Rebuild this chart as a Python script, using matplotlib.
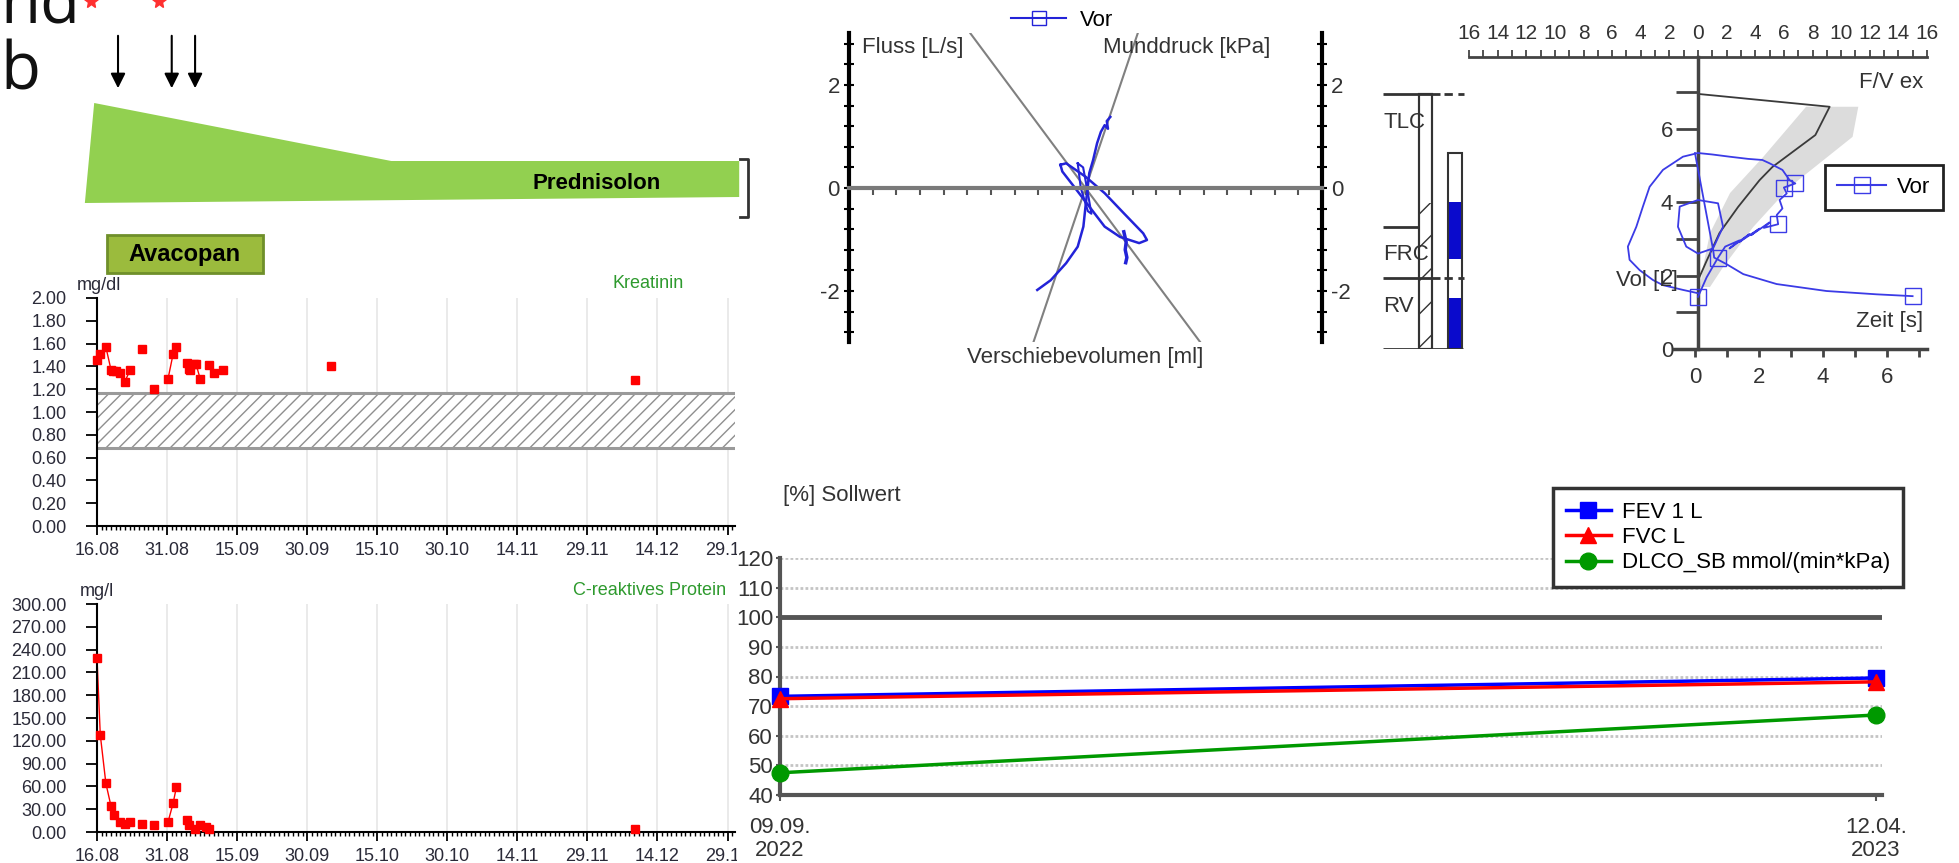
import numpy as np
import matplotlib
matplotlib.use("Agg")
import matplotlib.pyplot as plt
from matplotlib.patches import Rectangle
from matplotlib.lines import Line2D
from matplotlib.collections import LineCollection
from matplotlib.ticker import MultipleLocator, FuncFormatter

plt.rcParams['font.family'] = ['Liberation Sans', 'DejaVu Sans']
plt.rcParams['axes.unicode_minus'] = False
plt.rcParams['hatch.linewidth'] = 1.0

W, H = 1959, 863

# ---------------- data ----------------
# lab values, days since 16.08.2022
lab_tick_days = [0, 15, 30, 45, 60, 75, 90, 105, 120, 135]
lab_tick_labels = ['16.08', '31.08', '15.09', '30.09', '15.10', '30.10',
                   '14.11', '29.11', '14.12', '29.12']
krea_days = [0, 0.7, 1.9, 3.0, 3.5, 4.1, 5.0, 5.9, 7.1, 9.6, 12.2, 15.2, 16.3,
             17.0, 19.2, 19.7, 20.0, 20.7, 21.2, 22.1, 24.0, 25.1, 26.9, 50.0, 115.1]
krea_vals = [1.46, 1.51, 1.57, 1.37, 1.36, 1.36, 1.34, 1.26, 1.37, 1.55, 1.20, 1.29, 1.51,
             1.57, 1.43, 1.38, 1.37, 1.42, 1.42, 1.29, 1.41, 1.34, 1.37, 1.40, 1.28]
krea_ref = (0.68, 1.17)
crp_days = [0, 0.7, 1.9, 3.0, 3.6, 5.0, 5.9, 7.1, 9.6, 12.2, 15.2, 16.3, 17.0,
            19.2, 19.7, 21.0, 22.1, 23.3, 24.0, 115.1]
crp_vals = [229, 128, 64, 34, 22, 13, 10.5, 13, 10.5, 8.8, 13, 38, 59,
            16, 8.8, 4.4, 8.8, 6.6, 4.0, 4.4]

# therapy timeline
arrow_days = [4.5, 16.0, 21.0]
avacopan_days = (2.1, 35.5)
pred_days = [-0.6, 63, 137.5, 137.5, -2.6]
pred_rows = [103, 161, 161, 197, 203]

# body plethysmography (Vor)
bb_slopes = [-0.617, 1.36]
bb_main_x = [-2.04, -1.47, -0.82, -0.33, -0.09, 0.0, 0.08, 0.16, 0.32, 0.49, 0.65, 0.81, 0.95, 0.9, 1.05]
bb_main_y = [-1.98, -1.79, -1.46, -1.14, -0.75, -0.36, -0.04, 0.29, 0.54, 0.87, 1.09, 1.22, 1.15, 1.3, 1.38]
bb_loop_x = [-1.06, -0.82, 0, 0.81, 1.62, 2.44, 2.6, 2.27, 1.46, 0.81, 0.16, -0.49, -0.98, -1.06]
bb_loop_y = [0.45, 0.48, 0.22, -0.1, -0.49, -0.88, -1.01, -1.07, -0.95, -0.75, -0.36, 0.03, 0.32, 0.45]
bb_inner_x = [-0.33, -0.1, 0.1, 0.25, 0.1, -0.2, -0.33]
bb_inner_y = [0.48, 0.4, -0.1, -0.5, -0.45, 0.0, 0.48]
bb_blob_x = [1.62, 1.72, 1.68, 1.75, 1.7]
bb_blob_y = [-0.85, -1.05, -1.2, -1.35, -1.45]

# flow/volume
fv_pred_flow = [0, 9.2, 8.2, 5.2, 4.3, 2.8, 1.5, 0.6, 0.1]
fv_pred_vol = [6.95, 6.6, 5.83, 4.96, 4.6, 3.87, 3.16, 2.4, 1.96]
fv_band_flow = [11.2, 10.8, 6.4, 3.85, 1.75, 0.84, 0.14, 0.35, 0.84, 2.24, 4.55, 7.55]
fv_band_vol = [6.6, 5.78, 4.41, 3.32, 2.23, 1.69, 1.69, 2.23, 3.16, 4.25, 5.23, 6.6]
fv_exp_flow = [0, 1.0, 2.2, 3.5, 4.5, 5.0, 5.9, 6.4, 6.8, 6.0, 6.2, 5.7, 5.9, 5.5, 5.6,
               4.6, 5.0, 3.7, 4.3, 2.9, 3.6, 2.2, 2.9, 1.9, 1.4, 0.6, 0]
fv_exp_vol = [5.34, 5.30, 5.24, 5.18, 5.15, 5.06, 4.88, 4.60, 4.51, 4.40, 4.24, 4.06, 3.83, 3.65, 3.40,
              3.30, 3.45, 3.10, 3.28, 2.92, 3.13, 2.74, 2.96, 2.79, 2.49, 1.95, 1.42]
fv_exp_marks = [8, 9, 14, 24, 26]
fv_insp_flow = [0, -1.05, -2.45, -3.15, -4.08, -4.78, -4.9, -4.31, -3.85, -3.38, -2.45, -1.05, 0]
fv_insp_vol = [1.52, 1.61, 1.74, 1.88, 2.15, 2.43, 2.79, 3.33, 3.88, 4.42, 4.88, 5.24, 5.34]
fv_tidal_flow = [0, -1.28, -1.4, -0.82, 0, 1.05, 1.75, 1.4, 0]
fv_tidal_vol = [4.06, 3.88, 3.33, 2.79, 2.6, 2.74, 3.33, 3.97, 4.06]
vt_time = [0, 0.57, 0.6, 0.99, 1.51, 2.55, 4.11, 5.67, 6.8]
vt_vol = [5.34, 2.69, 2.49, 2.31, 2.04, 1.77, 1.58, 1.49, 1.44]

# lung volumes [L]
tlc_pred, frc_pred, rv_pred = 6.95, 3.32, 1.93
pred_hatch_top = 3.98
meas_tlc = 5.34
meas_segments = [(0, 1.39, '#0a0acc'), (1.39, 2.45, 'white'),
                 (2.45, 4.0, '#0a0acc'), (4.0, 5.34, 'white')]

# lung function trend, days since 09.09.2022
lf_days = [0, 215]
lf_labels = ['09.09.\n2022', '12.04.\n2023']
fev1 = [73.3, 79.5]
fvc = [72.5, 78.2]
dlco = [47.5, 67.0]

# ---------------- helpers ----------------
fig = plt.figure(figsize=(W / 100, H / 100), dpi=100)
fig.patch.set_facecolor('white')


def px_axes(x0, y0, x1, y1, **kw):
    return fig.add_axes([x0 / W, 1 - y1 / H, (x1 - x0) / W, (y1 - y0) / H], **kw)


def px_text(x, y, s, **kw):
    return fig.text(x / W, 1 - y / H, s, **kw)


TXT = '#2a2a38'
GREEN_T = '#2e9a2e'

# ---------------- timeline ----------------
px_text(0, 23, 'nd', fontsize=47, family='Open Sans', va='baseline', color='#111')
px_text(0, 90, 'b', fontsize=47, family='Open Sans', va='baseline', color='#111')
for xs in (91, 159):
    fig.add_artist(Line2D([xs / W], [1 - 1 / H], marker='*', ms=11, color='#ff3030',
                          transform=fig.transFigure))

axT = px_axes(97, 0, 735, 280)
axT.set_xlim(0, 136.6)
axT.set_ylim(280, 0)
axT.axis('off')
axT.fill(pred_days, pred_rows, color='#92D050', lw=0, clip_on=False)
axT.text(107, 183, 'Prednisolon', ha='center', va='center', fontsize=16, weight='bold')
axT.plot([137.6, 139.3, 139.3, 137.6], [159, 159, 217, 217], color='#333', lw=2, clip_on=False)
axT.add_patch(Rectangle((avacopan_days[0], 235), avacopan_days[1] - avacopan_days[0], 38,
                        facecolor='#9BBB3D', edgecolor='#6F8F2A', lw=2))
axT.text(sum(avacopan_days) / 2, 254, 'Avacopan', ha='center', va='center', fontsize=17, weight='bold')
for d in arrow_days:
    axT.annotate('', xy=(d, 91), xytext=(d, 33),
                 arrowprops=dict(arrowstyle='-|>', color='black', lw=1.5, mutation_scale=22))


# ---------------- lab panels ----------------
def lab_panel(rect, days, vals, ymax, ystep):
    ax = px_axes(*rect)
    ax.set_xlim(0, 136.6)
    ax.set_ylim(0, ymax)
    for d in lab_tick_days[1:]:
        ax.axvline(d, color='#e6e6e6', lw=1.2, zorder=0)
    for s in ('top', 'right'):
        ax.spines[s].set_visible(False)
    for s in ('left', 'bottom'):
        ax.spines[s].set_linewidth(1.5)
    days = np.asarray(days)
    vals = np.asarray(vals)
    runs = np.split(np.arange(len(days)), np.where(np.diff(days) > 1.5)[0] + 1)
    for r in runs:
        ax.plot(days[r], vals[r], color='red', lw=1, clip_on=False)
    ax.plot(days, vals, 's', color='red', ms=5.5, ls='none', clip_on=False, zorder=4)
    ax.set_xticks(lab_tick_days, lab_tick_labels)
    ax.xaxis.set_minor_locator(MultipleLocator(1))
    ax.tick_params(axis='x', which='major', length=6.5, width=1.3, labelsize=13, pad=5, labelcolor=TXT)
    ax.tick_params(axis='x', which='minor', length=3, width=1)
    ax.set_yticks(np.arange(0, ymax + ystep / 2, ystep))
    ax.yaxis.set_major_formatter(FuncFormatter(lambda v, p: f'{v:.2f}'))
    ax.tick_params(axis='y', length=8, width=1.3, labelsize=13, pad=14, labelcolor=TXT)
    return ax


axK = lab_panel((97, 298, 735, 526), krea_days, krea_vals, 2.0, 0.2)
# reference range, hatched with 45 degree lines about 13 px apart
band = Rectangle((0, krea_ref[0]), 136.6, krea_ref[1] - krea_ref[0], facecolor='white',
                 edgecolor='none', zorder=1)
axK.add_patch(band)
slope = (638 / 136.6) / (228 / 2.0)
rise = (krea_ref[1] - krea_ref[0]) / slope
starts = np.arange(-rise, 136.6, 2.75)
hatch = LineCollection([[(x, krea_ref[0]), (x + rise, krea_ref[1])] for x in starts],
                       colors='#8f8f8f', linewidths=1, zorder=1.5)
hatch.set_clip_path(band)
axK.add_collection(hatch)
axK.hlines(krea_ref, 0, 136.6, color='#9a9a9a', lw=2.2, zorder=2)
px_text(77, 285, 'mg/dl', fontsize=13, color=TXT, va='center')
px_text(648, 283, 'Kreatinin', fontsize=13, color=GREEN_T, ha='center', va='center')

axC = lab_panel((97, 604, 735, 832), crp_days, crp_vals, 300, 30)
px_text(80, 591, 'mg/l', fontsize=13, color=TXT, va='center')
px_text(726, 590, 'C-reaktives Protein', fontsize=13, color=GREEN_T, ha='right', va='center')

# white area of the lung function report covering the lab charts
fig.add_artist(Rectangle((737 / W, 0), 1 - 737 / W, 1 - 400 / H, transform=fig.transFigure,
                         facecolor='white', edgecolor='none', zorder=1))

# ---------------- body plethysmography ----------------
BLUE = '#2323d8'
axB = px_axes(849, 33.5, 1322, 342.5)
axB.set_xlim(-10, 10)
axB.set_ylim(-3, 3)
axB.patch.set_alpha(0)
axB.spines['top'].set_visible(False)
for s in ('left', 'right'):
    axB.spines[s].set_linewidth(3)
axB.spines['bottom'].set_position(('data', 0))
axB.spines['bottom'].set_color('#7a7a7a')
axB.spines['bottom'].set_linewidth(3)
axB.xaxis.set_major_locator(MultipleLocator(1))
axB.tick_params(axis='x', direction='out', length=5, width=1.5, color='#555', labelbottom=False)
axB.set_yticks([-2, 0, 2])
axB.yaxis.set_minor_locator(MultipleLocator(0.4))
axB.tick_params(axis='y', which='both', direction='inout', length=7, width=1.5,
                left=True, right=True, labelleft=True, labelright=True,
                labelsize=16, pad=3, labelcolor='#333')
for s in bb_slopes:
    axB.axline((0, 0), slope=s, color='#808080', lw=1.5)
axB.plot(bb_main_x, bb_main_y, color=BLUE, lw=1.8)
axB.plot(bb_loop_x, bb_loop_y, color=BLUE, lw=1.8)
axB.plot(bb_inner_x, bb_inner_y, color=BLUE, lw=1.5)
axB.plot(bb_blob_x, bb_blob_y, color=BLUE, lw=2.5)
px_text(862, 47, 'Fluss [L/s]', fontsize=16, color='#333', va='center')
px_text(1270, 47, 'Munddruck [kPa]', fontsize=16, color='#333', va='center', ha='right')
px_text(1085, 357, 'Verschiebevolumen [ml]', fontsize=16, color='#333', va='center', ha='center')
axB.legend([Line2D([], [], color=BLUE, marker='s', mfc='none', ms=10, lw=1.5)], ['Vor'],
           loc='center', bbox_to_anchor=(1062 / W, 1 - 20 / H), bbox_transform=fig.transFigure,
           frameon=False, fontsize=16, handlelength=2.5, handletextpad=0.6, borderpad=0)

# ---------------- lung volumes ----------------
axL = px_axes(1380, 57, 1470, 349)
axL.set_xlim(0, 90)
axL.set_ylim(0, 7.956)
axL.axis('off')
axL.hlines([tlc_pred, rv_pred, 0], 3, [60, 60, 83], color='#333', lw=2)
axL.hlines(frc_pred, 3, 39, color='#333', lw=2)
axL.hlines([tlc_pred, rv_pred], 64, 84, color='#333', lw=2, linestyles=(0, (3, 2)))
axL.add_patch(Rectangle((39, 0), 13, tlc_pred, facecolor='white', edgecolor='#333', lw=1.5))
axL.add_patch(Rectangle((39, 0), 13, pred_hatch_top, facecolor='none', edgecolor='#333',
                        hatch='/', lw=0))
axL.add_patch(Rectangle((39, 0), 13, tlc_pred, facecolor='none', edgecolor='#333', lw=1.5))
for lo, hi, c in meas_segments:
    axL.add_patch(Rectangle((68, lo), 14, hi - lo, facecolor=c, edgecolor='none'))
axL.add_patch(Rectangle((68, 0), 14, meas_tlc, facecolor='none', edgecolor='#333', lw=1.5))
for lab, y in (('TLC', 123), ('FRC', 255), ('RV', 307)):
    px_text(1383, y, lab, fontsize=16, color='#333', va='center')

# ---------------- flow / volume ----------------
FVB = '#3b3be6'
axF = px_axes(1469, 57, 1927, 349)
axF.set_xlim(-16, 16)
axF.set_ylim(0, 7.956)
axF.patch.set_alpha(0)
for s in ('right', 'bottom'):
    axF.spines[s].set_visible(False)
axF.spines['top'].set_linewidth(2)
axF.spines['top'].set_color('#444')
axF.spines['left'].set_position(('data', 0))
axF.spines['left'].set_linewidth(2.5)
axF.spines['left'].set_color('#444')
axF.xaxis.tick_top()
axF.xaxis.set_major_locator(MultipleLocator(2))
axF.xaxis.set_minor_locator(MultipleLocator(1))
axF.xaxis.set_major_formatter(FuncFormatter(lambda v, p: f'{abs(v):.0f}'))
axF.tick_params(axis='x', which='both', direction='out', length=5, width=1.3, color='#444',
                labelsize=15, pad=5, labelcolor='#333')
axF.set_yticks([0, 2, 4, 6])
axF.set_yticks([1, 3, 5, 7], minor=True)
axF.tick_params(axis='y', which='both', direction='out', length=16, width=2, color='#444',
                labelsize=16, pad=2, labelcolor='#333')
axF.fill(fv_band_flow, fv_band_vol, color='#dcdcdc', lw=0, zorder=1)
axF.plot(fv_pred_flow, fv_pred_vol, color='#3a3a3a', lw=1.3, zorder=2)
axF.plot(fv_insp_flow, fv_insp_vol, color=FVB, lw=1.3, zorder=3)
axF.plot(fv_tidal_flow, fv_tidal_vol, color=FVB, lw=1.3, zorder=3)
axF.plot(fv_exp_flow, fv_exp_vol, color=FVB, lw=1.3, zorder=3, marker='s', ms=11,
         mfc='none', markevery=fv_exp_marks, clip_on=False)

axV = px_axes(1469, 57, 1927, 349)
axV.set_xlim(-7.06, 7.25)
axV.set_ylim(0, 7.956)
axV.patch.set_visible(False)
for s in ('left', 'right', 'top'):
    axV.spines[s].set_visible(False)
axV.spines['bottom'].set_bounds(-0.65, 7.25)
axV.spines['bottom'].set_linewidth(2.5)
axV.spines['bottom'].set_color('#444')
axV.yaxis.set_visible(False)
axV.set_xticks([0, 2, 4, 6])
axV.set_xticks([1, 3, 5, 7], minor=True)
axV.tick_params(axis='x', which='both', direction='out', length=6, width=2, color='#444',
                labelsize=16, pad=7, labelcolor='#333')
axV.plot(vt_time, vt_vol, color=FVB, lw=1.3, marker='s', ms=11, mfc='none',
         markevery=[len(vt_time) - 1], clip_on=False)

px_text(1923, 83, 'F/V ex', fontsize=16, color='#333', ha='right', va='center')
px_text(1923, 322, 'Zeit [s]', fontsize=16, color='#333', ha='right', va='center')
px_text(1678, 280, 'Vol [L]', fontsize=16, color='#333', ha='right', va='center')
axF.legend([Line2D([], [], color=FVB, marker='s', mfc='none', ms=11, lw=1.5)], ['Vor'],
           loc='center', bbox_to_anchor=(1884 / W, 1 - 187.5 / H), bbox_transform=fig.transFigure,
           fontsize=16, fancybox=False, edgecolor='#222', framealpha=1,
           handlelength=2.2, handletextpad=0.5, borderpad=0.55).get_frame().set_linewidth(2)

# ---------------- lung function trend ----------------
axD = px_axes(780, 558, 1882, 795, zorder=2)
axD.set_xlim(0, 216.2)
axD.set_ylim(40, 120)
for v in (50, 60, 70, 80, 90, 110, 120):
    axD.axhline(v, color='#c4c4c4', lw=2, ls=(0, (1, 0.8)), zorder=0)
axD.axhline(100, color='#555', lw=3.5, zorder=1)
for s in ('top', 'right'):
    axD.spines[s].set_visible(False)
for s in ('left', 'bottom'):
    axD.spines[s].set_linewidth(3)
    axD.spines[s].set_color('#555')
axD.plot(lf_days, fev1, color='#0000ff', lw=2.5, marker='s', ms=12, clip_on=False, zorder=3)
axD.plot(lf_days, fvc, color='#ff0000', lw=2.5, marker='^', ms=12, clip_on=False, zorder=4)
axD.plot(lf_days, dlco, color='#009900', lw=2.5, marker='o', ms=12, clip_on=False, zorder=3)
axD.set_yticks(np.arange(40, 121, 10))
axD.tick_params(axis='y', length=3, width=1.5, color='#555', labelsize=16, pad=2, labelcolor='#333')
axD.set_xticks(lf_days, lf_labels)
axD.tick_params(axis='x', length=4, width=1.5, color='#555', labelsize=16, pad=12, labelcolor='#333')
for t in axD.get_xticklabels():
    t.set_linespacing(1.1)
px_text(783, 495, '[%] Sollwert', fontsize=16, color='#333', va='center')
leg = axD.legend([Line2D([], [], color='#0000ff', marker='s', ms=12, lw=2.5),
                  Line2D([], [], color='#ff0000', marker='^', ms=12, lw=2.5),
                  Line2D([], [], color='#009900', marker='o', ms=12, lw=2.5)],
                 ['FEV 1 L', 'FVC L', 'DLCO_SB mmol/(min*kPa)'],
                 loc='center', bbox_to_anchor=(1728 / W, 1 - 537.5 / H), bbox_transform=fig.transFigure,
                 fontsize=16, fancybox=False, edgecolor='#333', framealpha=1,
                 handlelength=2.0, handletextpad=0.5, labelspacing=0.2, borderpad=0.6)
leg.get_frame().set_linewidth(2.5)

fig.savefig('out.png', dpi=100, facecolor='white')
